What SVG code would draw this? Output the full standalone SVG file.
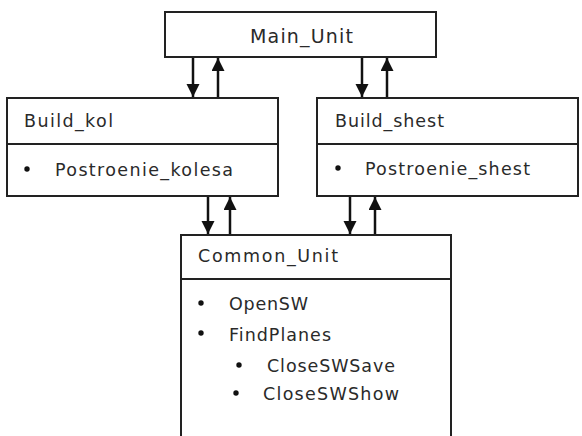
<svg xmlns="http://www.w3.org/2000/svg" width="582" height="436" viewBox="0 0 582 436">
<defs>
<style>
.box{fill:#fff;stroke:#222;stroke-width:2}
.div{stroke:#222;stroke-width:2}
.t{font-family:"DejaVu Sans",Verdana,sans-serif;font-size:17.5px;fill:#2a2a2a}
.tm{font-family:"DejaVu Sans",Verdana,sans-serif;font-size:19px;fill:#2a2a2a}
.b{fill:#111}
.c{stroke:#111;stroke-width:2.5;fill:none}
</style>
<marker id="ah" markerWidth="13" markerHeight="14" refX="13" refY="6.5" orient="auto" markerUnits="userSpaceOnUse">
<path d="M0,0 L13,6.5 L0,13 Z" fill="#111"/>
</marker>
</defs>
<rect width="582" height="436" fill="#fff"/>
<g id="connectors">
<line class="c" x1="193" y1="58" x2="193" y2="97" marker-end="url(#ah)"/>
<line class="c" x1="218" y1="97" x2="218" y2="58" marker-end="url(#ah)"/>
<line class="c" x1="362" y1="58" x2="362" y2="97" marker-end="url(#ah)"/>
<line class="c" x1="387" y1="97" x2="387" y2="58" marker-end="url(#ah)"/>
<line class="c" x1="208" y1="197" x2="208" y2="234" marker-end="url(#ah)"/>
<line class="c" x1="230" y1="234" x2="230" y2="197" marker-end="url(#ah)"/>
<line class="c" x1="350" y1="197" x2="350" y2="234" marker-end="url(#ah)"/>
<line class="c" x1="375" y1="234" x2="375" y2="197" marker-end="url(#ah)"/>
</g>
<g id="main_unit">
<rect class="box" x="165" y="12" width="271" height="45"/>
<text class="tm" x="250" y="43" textLength="103" lengthAdjust="spacing">Main_Unit</text>
</g>
<g id="build_kol">
<rect class="box" x="7" y="98" width="271" height="98"/>
<line class="div" x1="7" y1="144" x2="278" y2="144"/>
<text class="t" x="24" y="127" textLength="89" lengthAdjust="spacing">Build_kol</text>
<circle class="b" cx="27" cy="169" r="2.7"/>
<text class="t" x="55" y="176" textLength="178" lengthAdjust="spacing">Postroenie_kolesa</text>
</g>
<g id="build_shest">
<rect class="box" x="317" y="98" width="261" height="98"/>
<line class="div" x1="317" y1="144" x2="578" y2="144"/>
<text class="t" x="335" y="127" textLength="109" lengthAdjust="spacing">Build_shest</text>
<circle class="b" cx="338" cy="168" r="2.7"/>
<text class="t" x="365" y="175" textLength="165" lengthAdjust="spacing">Postroenie_shest</text>
</g>
<g id="common_unit">
<rect class="box" x="181" y="235" width="270" height="220"/>
<line class="div" x1="181" y1="279" x2="451" y2="279"/>
<text class="t" x="198" y="262" textLength="140" lengthAdjust="spacing">Common_Unit</text>
<circle class="b" cx="201" cy="303" r="2.7"/>
<text class="t" x="229" y="310" textLength="79" lengthAdjust="spacing">OpenSW</text>
<circle class="b" cx="201" cy="333" r="2.7"/>
<text class="t" x="229" y="341" textLength="102" lengthAdjust="spacing">FindPlanes</text>
<circle class="b" cx="239" cy="365" r="2.7"/>
<text class="t" x="267" y="372" textLength="128" lengthAdjust="spacing">CloseSWSave</text>
<circle class="b" cx="236" cy="393" r="2.7"/>
<text class="t" x="263" y="400" textLength="136" lengthAdjust="spacing">CloseSWShow</text>
</g>
</svg>
